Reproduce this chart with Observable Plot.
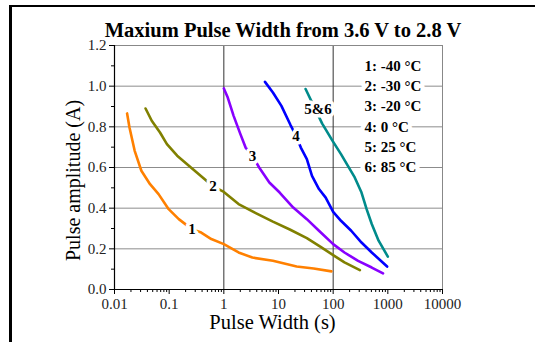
<!DOCTYPE html>
<html><head><meta charset="utf-8">
<script src="https://cdn.jsdelivr.net/npm/d3@7"></script>
<script src="https://cdn.jsdelivr.net/npm/@observablehq/plot@0.6"></script>
<style>
html,body{margin:0;padding:0;background:#fff;overflow:hidden;}
#wrap{position:relative;width:535px;height:342px;}
#border{position:absolute;left:9px;top:5px;width:600px;height:400px;border-left:3px solid #000;border-top:2px solid #000;pointer-events:none;}
</style></head><body><div id="wrap"><div id="chart"></div><div id="border"></div></div>
<script>
const titleText = "Maxium Pulse Width from 3.6 V to 2.8 V";
const xLabel = "Pulse Width (s)";
const yLabel = "Pulse amplitude (A)";

const xTicks = [0.01, 0.1, 1, 10, 100, 1000, 10000];
const xTickLabels = ["0.01", "0.1", "1", "10", "100", "1000", "10000"];
const yTicks = [0, 0.2, 0.4, 0.6, 0.8, 1.0, 1.2];
const yTickLabels = ["0.0", "0.2", "0.4", "0.6", "0.8", "1.0", "1.2"];
const yMinor = [0.1, 0.3, 0.5, 0.7, 0.9, 1.1];
const gridY = [0.2, 0.4, 0.6, 0.8, 1.0];
const gridX = [1, 100];

const seriesNames = ["1", "2", "3", "4", "5&6"];

const width1 = [0.017,0.0188,0.0234,0.031,0.0447,0.064,0.098,0.15,0.26,0.386,0.59,1.0,1.86,3.33,7.9,21.5,44,93];
const amp1   = [0.866,0.797,0.682,0.584,0.518,0.469,0.395,0.346,0.297,0.280,0.248,0.223,0.182,0.157,0.141,0.113,0.103,0.089];
const width2 = [0.037,0.048,0.068,0.091,0.14,0.25,0.64,1,1.86,3.84,7.9,16.1,33,59,100,161,308];
const amp2   = [0.890,0.83,0.772,0.715,0.658,0.60,0.507,0.48,0.42,0.376,0.334,0.295,0.253,0.21,0.169,0.133,0.095];
const width3 = [1.0,1.18,1.51,2.01,2.5,3.33,4.43,6.8,10.5,18.6,33,55,100,161,286,508,817];
const amp3   = [0.989,0.944,0.854,0.764,0.698,0.658,0.60,0.526,0.477,0.403,0.346,0.289,0.223,0.182,0.141,0.108,0.079];
const width4 = [5.66,7.9,11.3,16.5,20.9,25.6,33,41,55,73,100,139,214,330,508,970];
const amp4   = [1.021,0.969,0.903,0.81,0.756,0.698,0.641,0.559,0.494,0.452,0.382,0.338,0.289,0.231,0.182,0.113];
const width56 = [31.3,63,97.5,139,186,248,330,409,508,678,1000];
const amp56   = [0.986,0.816,0.731,0.666,0.608,0.551,0.477,0.395,0.322,0.24,0.162];

const curveLabelX = [0.262, 0.636, 3.33, 20.9, 52.6];
const curveLabelY = [0.297, 0.507, 0.658, 0.756, 0.887];

const legendLabels = ["1: -40 °C", "2: -30 °C", "3: -20 °C", "4: 0 °C", "5: 25 °C", "6: 85 °C"];
const legendY = [1.1, 1.0, 0.9, 0.8, 0.7, 0.6];
const legendX = 373;

const seriesColors = ["#ff8000", "#808000", "#8800ff", "#0000ff", "#008b8b"];

const widths = [width1, width2, width3, width4, width56];
const amps = [amp1, amp2, amp3, amp4, amp56];
const lineData = [];
seriesNames.forEach((s, i) => widths[i].forEach((w, j) => lineData.push({s, w, a: amps[i][j]})));
const curveLabels = seriesNames.map((s, i) => ({s, x: curveLabelX[i], y: curveLabelY[i]}));
const legendData = legendLabels.map((t, i) => ({t, y: legendY[i]}));
const xTickData = xTicks.map((v, i) => ({v, t: xTickLabels[i]}));
const yTickData = yTicks.map((v, i) => ({v, t: yTickLabels[i]}));
const xMinor = [];
for (let e = -2; e <= 3; e++) for (let m = 2; m <= 9; m++) xMinor.push(m * Math.pow(10, e));

const serif = "'Liberation Serif', 'Times New Roman', serif";

const chart = Plot.plot({
  width: 535, height: 342,
  marginLeft: 114, marginRight: 93, marginTop: 45, marginBottom: 53,
  style: {fontFamily: serif, background: "#fff", color: "#000", overflow: "visible"},
  x: {type: "log", domain: [0.01, 10000]},
  y: {domain: [0, 1.2]},
  color: {domain: seriesNames, range: seriesColors},
  marks: [
    Plot.ruleY(gridY, {stroke: "#8c8c8c", strokeWidth: 1}),
    Plot.ruleX(gridX, {stroke: "#333", strokeWidth: 1}),
    Plot.frame({stroke: "#888"}),
    Plot.ruleX([0.01], {stroke: "#000", strokeWidth: 1.2}),
    Plot.ruleY([0], {stroke: "#000", strokeWidth: 1.2}),
    Plot.axisX({ticks: xTicks, tickFormat: () => "", tickSize: 5, label: null}),
    Plot.axisX({ticks: xMinor, tickFormat: () => "", tickSize: 3, label: null}),
    Plot.axisY({ticks: yTicks, tickFormat: () => "", tickSize: 5, label: null}),
    Plot.axisY({ticks: yMinor, tickFormat: () => "", tickSize: 3, label: null}),
    Plot.text(xTickData, {x: "v", text: "t", frameAnchor: "bottom", lineAnchor: "top", dy: 8.5, fontSize: 15, fontFamily: serif, fill: "#222"}),
    Plot.text(yTickData, {y: "v", text: "t", frameAnchor: "left", textAnchor: "end", lineAnchor: "middle", dx: -8, fontSize: 15, fontFamily: serif, fill: "#222"}),
    Plot.line(lineData, {x: "w", y: "a", z: "s", stroke: "s", strokeWidth: 2.6}),
    Plot.text(curveLabels, {x: "x", y: "y", text: "s", fontWeight: "bold", fontSize: 15, fontFamily: serif, fill: "#000", stroke: "white", strokeWidth: 7, paintOrder: "stroke"}),
    Plot.text(legendData, {x: () => legendX, y: "y", text: "t", textAnchor: "start", fontWeight: "bold", fontSize: 15, fontFamily: serif, fill: "#000", stroke: "white", strokeWidth: 9, paintOrder: "stroke"}),
    Plot.text([titleText], {text: d => d, frameAnchor: "top", textAnchor: "middle", dx: 4.5, dy: -8.5, lineAnchor: "bottom", fontSize: 20.5, fontWeight: "bold", fontFamily: serif}),
    Plot.text([xLabel], {text: d => d, frameAnchor: "bottom", textAnchor: "middle", dx: -6, dy: 25, lineAnchor: "top", fontSize: 20.5, fontFamily: serif}),
    Plot.text([yLabel], {text: d => d, frameAnchor: "left", textAnchor: "middle", dx: -41, dy: 13, rotate: -90, lineAnchor: "middle", fontSize: 20, fontFamily: serif})
  ]
});
document.getElementById("chart").appendChild(chart);
</script>
</body></html>
